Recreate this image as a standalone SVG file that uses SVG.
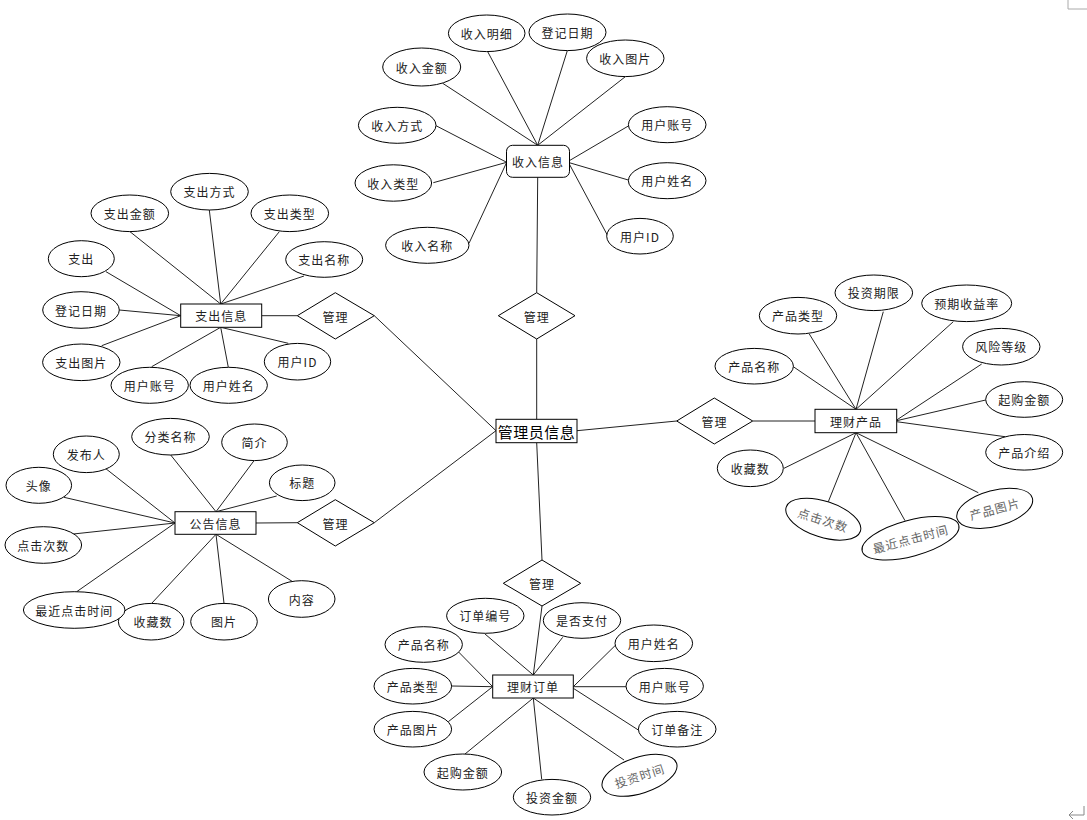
<svg xmlns="http://www.w3.org/2000/svg" width="1087" height="820" viewBox="0 0 1087 820">
<style>
.e{fill:#fff;stroke:#000;stroke-width:1}
.r{fill:#fff;stroke:#000;stroke-width:1}
.d{fill:#fff;stroke:#000;stroke-width:1}
.t{font-family:"Noto Sans CJK SC","Liberation Sans",sans-serif;font-size:12px;fill:#222;text-anchor:middle;dominant-baseline:central;letter-spacing:1px}
.g{fill:#666}
.big{font-size:15px;fill:#000;letter-spacing:0.5px}
#connectors line{stroke:#222;stroke-width:1}
</style>
<rect width="1087" height="820" fill="#fff"/>
<polyline points="1068,0 1068,9 1087,9" fill="none" stroke="#aaa" stroke-width="1"/>
<path d="M1084,806 V815 H1069 M1073,811 L1069,815 L1073,819" fill="none" stroke="#888" stroke-width="1"/>
<g id="connectors">
<line x1="442.7" y1="83.3" x2="537.7" y2="145.3"/>
<line x1="487.7" y1="51.7" x2="537.7" y2="145.3"/>
<line x1="567.3" y1="50.7" x2="537.7" y2="145.3"/>
<line x1="625.3" y1="76.7" x2="537.7" y2="145.3"/>
<line x1="436" y1="125.7" x2="506.7" y2="162.3"/>
<line x1="433.3" y1="182.7" x2="506.7" y2="162.3"/>
<line x1="469" y1="243.3" x2="506.7" y2="162.3"/>
<line x1="628.3" y1="126" x2="569.3" y2="160.7"/>
<line x1="628.3" y1="180" x2="569.3" y2="162.7"/>
<line x1="607.3" y1="235" x2="569.3" y2="164"/>
<line x1="537.7" y1="177.3" x2="536.7" y2="292.7"/>
<line x1="536.7" y1="339" x2="536.7" y2="419.3"/>
<line x1="374.3" y1="315.7" x2="496" y2="430.7"/>
<line x1="374.3" y1="522.7" x2="496" y2="430.7"/>
<line x1="577" y1="430.7" x2="676.7" y2="421"/>
<line x1="752.7" y1="421" x2="815" y2="421"/>
<line x1="536.7" y1="442.7" x2="542" y2="560"/>
<line x1="542" y1="606" x2="533.3" y2="675"/>
<line x1="261.7" y1="315.7" x2="297.3" y2="315.7"/>
<line x1="256" y1="523" x2="297.3" y2="522.7"/>
<line x1="130" y1="231.7" x2="220.7" y2="304"/>
<line x1="209.3" y1="210" x2="220.7" y2="304"/>
<line x1="279.3" y1="231.7" x2="220.7" y2="304"/>
<line x1="304" y1="276" x2="220.7" y2="304"/>
<line x1="106" y1="271.7" x2="180.7" y2="315.7"/>
<line x1="119.3" y1="310" x2="180.7" y2="315.7"/>
<line x1="101.7" y1="345.7" x2="180.7" y2="315.7"/>
<line x1="151.7" y1="366.7" x2="220.7" y2="327.3"/>
<line x1="228.3" y1="367.3" x2="220.7" y2="327.3"/>
<line x1="288.3" y1="343.3" x2="220.7" y2="327.3"/>
<line x1="170.7" y1="455" x2="216" y2="511.7"/>
<line x1="254" y1="460.7" x2="216" y2="511.7"/>
<line x1="276.7" y1="496" x2="216" y2="511.7"/>
<line x1="103.3" y1="466.7" x2="175" y2="523"/>
<line x1="64" y1="497.3" x2="175" y2="523"/>
<line x1="73.3" y1="534" x2="175" y2="523"/>
<line x1="76.7" y1="591.7" x2="175" y2="523"/>
<line x1="151.7" y1="603.3" x2="216" y2="534.3"/>
<line x1="224" y1="603.3" x2="216" y2="534.3"/>
<line x1="292.7" y1="581.7" x2="216" y2="534.3"/>
<line x1="793.3" y1="366.7" x2="856" y2="409.3"/>
<line x1="809.3" y1="334" x2="856" y2="409.3"/>
<line x1="883.3" y1="311.7" x2="856" y2="409.3"/>
<line x1="953.3" y1="321.7" x2="856" y2="409.3"/>
<line x1="981.7" y1="364" x2="896.7" y2="420"/>
<line x1="985.7" y1="400" x2="896.7" y2="420.7"/>
<line x1="1005" y1="436.7" x2="896.7" y2="421.7"/>
<line x1="784" y1="468.3" x2="856" y2="432.7"/>
<line x1="828.3" y1="501.7" x2="856" y2="432.7"/>
<line x1="905" y1="520.7" x2="856" y2="432.7"/>
<line x1="978.3" y1="492.7" x2="856" y2="432.7"/>
<line x1="485" y1="634" x2="533.3" y2="675"/>
<line x1="562.7" y1="637.3" x2="533.3" y2="675"/>
<line x1="458.3" y1="651.7" x2="492.7" y2="686.7"/>
<line x1="451.7" y1="686" x2="492.7" y2="686.7"/>
<line x1="448.3" y1="721.7" x2="492.7" y2="686.7"/>
<line x1="465" y1="754" x2="533.3" y2="698"/>
<line x1="541.7" y1="779.3" x2="533.3" y2="698"/>
<line x1="624" y1="760" x2="533.3" y2="698"/>
<line x1="615" y1="645.7" x2="573.3" y2="686.7"/>
<line x1="626" y1="686.7" x2="573.3" y2="686.7"/>
<line x1="638.3" y1="730" x2="573.3" y2="688.3"/>
</g>

<!-- central -->
<g id="admin"><rect class="r" x="496" y="419.3" width="81" height="23.4"/><text class="t big" x="536.5" y="431">管理员信息</text></g>
<g id="rel-top"><polygon class="d" points="536.7,292.7 575,315.7 536.7,339 498.3,315.7"/><text class="t" x="536.7" y="316">管理</text></g>
<g id="rel-left1"><polygon class="d" points="335.3,292.7 374.3,315.7 335.3,339 297.3,315.7"/><text class="t" x="335.5" y="316">管理</text></g>
<g id="rel-left2"><polygon class="d" points="335.3,499.7 374.3,522.7 335.3,546 297.3,522.7"/><text class="t" x="335.5" y="523">管理</text></g>
<g id="rel-right"><polygon class="d" points="714.3,398 752.7,421 714.3,444 676.7,421"/><text class="t" x="714.5" y="421">管理</text></g>
<g id="rel-bottom"><polygon class="d" points="542,560 580.7,583.3 542,606 503.3,583.3"/><text class="t" x="542" y="583.5">管理</text></g>

<!-- 收入信息 -->
<g id="income"><rect class="r" x="506.5" y="145.3" width="63" height="32" rx="6"/><text class="t" x="538" y="161.5">收入信息</text></g>
<g id="in-mx"><ellipse class="e" cx="486.7" cy="33.3" rx="38.3" ry="18.3"/><text class="t" x="486.7" y="33.3">收入明细</text></g>
<g id="in-rq"><ellipse class="e" cx="567.5" cy="32.3" rx="38.5" ry="18.3"/><text class="t" x="567.5" y="32.3">登记日期</text></g>
<g id="in-tp"><ellipse class="e" cx="625.3" cy="58.3" rx="38.7" ry="18.3"/><text class="t" x="625.3" y="58.3">收入图片</text></g>
<g id="in-je"><ellipse class="e" cx="421.7" cy="67" rx="39" ry="19"/><text class="t" x="421.7" y="67">收入金额</text></g>
<g id="in-fs"><ellipse class="e" cx="397.2" cy="125.3" rx="38.8" ry="18"/><text class="t" x="397.2" y="125.3">收入方式</text></g>
<g id="in-lx"><ellipse class="e" cx="393.3" cy="183" rx="38.3" ry="18.2"/><text class="t" x="393.3" y="183">收入类型</text></g>
<g id="in-mc"><ellipse class="e" cx="427.3" cy="245.3" rx="41.7" ry="18"/><text class="t" x="427.3" y="245.3">收入名称</text></g>
<g id="in-zh"><ellipse class="e" cx="667.2" cy="124.7" rx="38.8" ry="18"/><text class="t" x="667.2" y="124.7">用户账号</text></g>
<g id="in-xm"><ellipse class="e" cx="667.2" cy="180.7" rx="38.8" ry="18"/><text class="t" x="667.2" y="180.7">用户姓名</text></g>
<g id="in-id"><ellipse class="e" cx="640" cy="236.2" rx="33.3" ry="17.8"/><text class="t" x="640" y="236.2">用户ID</text></g>

<!-- 支出信息 -->
<g id="expense"><rect class="r" x="180.7" y="304" width="81" height="23.3"/><text class="t" x="221.2" y="315.7">支出信息</text></g>
<g id="ex-fs"><ellipse class="e" cx="209.5" cy="191.7" rx="38.8" ry="18.3"/><text class="t" x="209.5" y="191.7">支出方式</text></g>
<g id="ex-je"><ellipse class="e" cx="129.8" cy="213.3" rx="38.8" ry="18.3"/><text class="t" x="129.8" y="213.3">支出金额</text></g>
<g id="ex-lx"><ellipse class="e" cx="289.8" cy="213.3" rx="38.8" ry="18.3"/><text class="t" x="289.8" y="213.3">支出类型</text></g>
<g id="ex-zc"><ellipse class="e" cx="81.3" cy="258.7" rx="33" ry="18"/><text class="t" x="81.3" y="258.7">支出</text></g>
<g id="ex-mc"><ellipse class="e" cx="324.2" cy="259.5" rx="38.5" ry="17.8"/><text class="t" x="324.2" y="259.5">支出名称</text></g>
<g id="ex-rq"><ellipse class="e" cx="81" cy="310" rx="38.3" ry="18.3"/><text class="t" x="81" y="310">登记日期</text></g>
<g id="ex-tp"><ellipse class="e" cx="81.3" cy="362.3" rx="38.7" ry="18.3"/><text class="t" x="81.3" y="362.3">支出图片</text></g>
<g id="ex-zh"><ellipse class="e" cx="149.7" cy="385.3" rx="38.7" ry="18"/><text class="t" x="149.7" y="385.3">用户账号</text></g>
<g id="ex-xm"><ellipse class="e" cx="228.7" cy="385.3" rx="38.7" ry="18"/><text class="t" x="228.7" y="385.3">用户姓名</text></g>
<g id="ex-id"><ellipse class="e" cx="297.5" cy="361.7" rx="33.2" ry="18.3"/><text class="t" x="297.5" y="361.7">用户ID</text></g>

<!-- 公告信息 -->
<g id="notice"><rect class="r" x="175" y="511.7" width="81" height="22.6"/><text class="t" x="215.5" y="523">公告信息</text></g>
<g id="no-fl"><ellipse class="e" cx="170.5" cy="436.7" rx="38.8" ry="18.3"/><text class="t" x="170.5" y="436.7">分类名称</text></g>
<g id="no-jj"><ellipse class="e" cx="254.5" cy="442.3" rx="32.8" ry="18.3"/><text class="t" x="254.5" y="442.3">简介</text></g>
<g id="no-fb"><ellipse class="e" cx="86.3" cy="454.3" rx="33" ry="18.3"/><text class="t" x="86.3" y="454.3">发布人</text></g>
<g id="no-bt"><ellipse class="e" cx="302.2" cy="482.8" rx="32.8" ry="17.8"/><text class="t" x="302.2" y="482.8">标题</text></g>
<g id="no-tx"><ellipse class="e" cx="38.8" cy="485.3" rx="32.8" ry="18"/><text class="t" x="38.8" y="485.3">头像</text></g>
<g id="no-dj"><ellipse class="e" cx="43.3" cy="545" rx="38.3" ry="18.3"/><text class="t" x="43.3" y="545">点击次数</text></g>
<g id="no-sc"><ellipse class="e" cx="151.2" cy="621.7" rx="32.8" ry="18.3"/><text class="t" x="153" y="621.7">收藏数</text></g>
<g id="no-zj"><ellipse class="e" cx="74.2" cy="610" rx="50.8" ry="18.3"/><text class="t" x="74.2" y="610">最近点击时间</text></g>
<g id="no-tp"><ellipse class="e" cx="224" cy="621.7" rx="33.3" ry="18.3"/><text class="t" x="224" y="621.7">图片</text></g>
<g id="no-nr"><ellipse class="e" cx="301.7" cy="599" rx="33.3" ry="18.3"/><text class="t" x="301.7" y="599">内容</text></g>

<!-- 理财产品 -->
<g id="product"><rect class="r" x="815" y="409.3" width="81.7" height="23.4"/><text class="t" x="856" y="421">理财产品</text></g>
<g id="pr-qx"><ellipse class="e" cx="873.8" cy="292.8" rx="38.8" ry="17.8"/><text class="t" x="873.8" y="292.8">投资期限</text></g>
<g id="pr-lx"><ellipse class="e" cx="798" cy="315.7" rx="38.7" ry="18.3"/><text class="t" x="798" y="315.7">产品类型</text></g>
<g id="pr-syl"><ellipse class="e" cx="966.7" cy="303.3" rx="45" ry="18.3"/><text class="t" x="966.7" y="303.3">预期收益率</text></g>
<g id="pr-fx"><ellipse class="e" cx="1001.3" cy="346.7" rx="38.7" ry="18.3"/><text class="t" x="1001.3" y="346.7">风险等级</text></g>
<g id="pr-mc"><ellipse class="e" cx="754.2" cy="366.2" rx="39.2" ry="17.8"/><text class="t" x="754.2" y="366.2">产品名称</text></g>
<g id="pr-qg"><ellipse class="e" cx="1024.2" cy="399.5" rx="38.5" ry="17.8"/><text class="t" x="1024.2" y="399.5">起购金额</text></g>
<g id="pr-js"><ellipse class="e" cx="1024.2" cy="452.3" rx="38.5" ry="17.8"/><text class="t" x="1024.2" y="452.3">产品介绍</text></g>
<g id="pr-sc"><ellipse class="e" cx="750.3" cy="468.3" rx="33" ry="18.3"/><text class="t" x="750.3" y="468.3">收藏数</text></g>
<g id="pr-dj" transform="translate(823.3,519.2) rotate(18)"><ellipse class="e" cx="0" cy="0" rx="39" ry="18"/><text class="t g" x="0" y="0">点击次数</text></g>
<g id="pr-zj" transform="translate(910.5,538.3) rotate(-15)"><ellipse class="e" cx="0" cy="0" rx="50" ry="18"/><text class="t g" x="0" y="0">最近点击时间</text></g>
<g id="pr-tp" transform="translate(994.7,508.3) rotate(-15)"><ellipse class="e" cx="0" cy="0" rx="39" ry="18"/><text class="t g" x="0" y="0">产品图片</text></g>

<!-- 理财订单 -->
<g id="order"><rect class="r" x="492.7" y="675" width="80.6" height="23"/><text class="t" x="533" y="686.5">理财订单</text></g>
<g id="or-bh"><ellipse class="e" cx="485.3" cy="615.8" rx="38.7" ry="17.5"/><text class="t" x="485.3" y="615.8">订单编号</text></g>
<g id="or-zf"><ellipse class="e" cx="582" cy="620.5" rx="38.7" ry="17.8"/><text class="t" x="582" y="620.5">是否支付</text></g>
<g id="or-mc"><ellipse class="e" cx="423.7" cy="644.5" rx="38.7" ry="17.8"/><text class="t" x="423.7" y="644.5">产品名称</text></g>
<g id="or-xm"><ellipse class="e" cx="653.8" cy="643.3" rx="38.8" ry="18.3"/><text class="t" x="653.8" y="643.3">用户姓名</text></g>
<g id="or-lx"><ellipse class="e" cx="412.8" cy="686.2" rx="38.8" ry="17.8"/><text class="t" x="412.8" y="686.2">产品类型</text></g>
<g id="or-zh"><ellipse class="e" cx="664.7" cy="686.2" rx="38.7" ry="17.8"/><text class="t" x="664.7" y="686.2">用户账号</text></g>
<g id="or-tp"><ellipse class="e" cx="412.8" cy="729.2" rx="38.8" ry="17.8"/><text class="t" x="412.8" y="729.2">产品图片</text></g>
<g id="or-bz"><ellipse class="e" cx="677.2" cy="729.2" rx="38.8" ry="17.8"/><text class="t" x="677.2" y="729.2">订单备注</text></g>
<g id="or-qg"><ellipse class="e" cx="462.8" cy="772" rx="38.8" ry="18"/><text class="t" x="462.8" y="772">起购金额</text></g>
<g id="or-tz"><ellipse class="e" cx="552" cy="797.2" rx="38.7" ry="17.8"/><text class="t" x="552" y="797.2">投资金额</text></g>
<g id="or-sj" transform="translate(639.5,775.3) rotate(-18)"><ellipse class="e" cx="0" cy="0" rx="39" ry="18"/><text class="t g" x="0" y="0">投资时间</text></g>
</svg>
